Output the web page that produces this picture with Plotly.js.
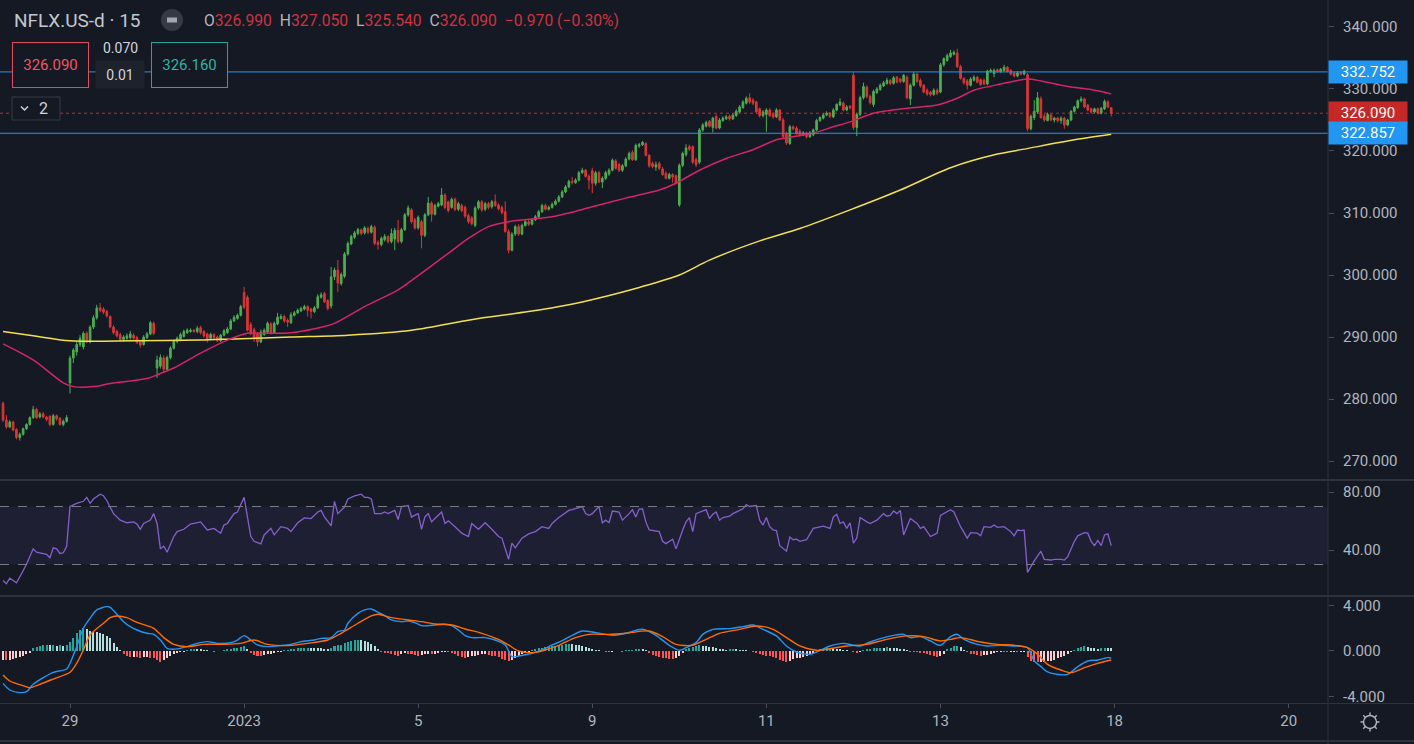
<!DOCTYPE html>
<html><head><meta charset="utf-8">
<script src="https://cdn.plot.ly/plotly-3.0.1.min.js"></script>
<style>html,body{margin:0;padding:0;background:#151924;overflow:hidden}#chart{width:1414px;height:744px}</style>
</head><body><div id="chart"></div>
<script>
// ---------- DATA (15-minute bars, bar index 0 = first bar of Dec 29) ----------
const firstBar = -20;
const tickBars = [0, 52, 104, 156, 208, 260, 312, 364];
const tickLabels = ['29', '2023', '5', '9', '11', '13', '18', '20'];

const openP = [
 279.3,276.6,275.5,276.3,275.1,273.8,274.3,275.2,275.9,277.0,278.3,277.1,277.6,277.1,277.2,275.9,277.3,276.9,275.9,276.4,
 282.6,286.6,287.6,288.8,288.4,290.6,289.2,291.6,293.1,294.7,294.5,294.1,293.3,291.6,290.9,290.4,289.6,289.8,289.9,290.3,289.9,289.3,288.8,289.9,290.5,292.2,
 285.0,285.3,286.6,284.8,286.7,288.2,289.3,289.6,290.1,290.7,290.9,291.1,290.9,291.5,290.9,290.5,289.8,290.4,290.0,289.4,290.3,290.7,291.3,292.6,293.0,293.5,
 297.2,296.4,292.0,291.2,290.5,289.2,290.4,290.8,292.1,290.7,292.1,293.0,293.3,292.7,292.3,293.5,293.9,294.2,294.5,294.9,294.5,294.1,294.7,296.4,297.0,295.9,
 295.0,299.7,300.8,298.6,299.8,303.4,305.0,306.1,306.7,307.3,306.8,307.5,306.9,307.7,305.3,304.9,305.7,306.2,305.4,305.8,307.2,305.4,307.3,309.7,310.5,308.9,
 307.6,308.6,306.4,309.7,311.6,309.8,311.1,311.3,312.9,311.8,310.9,312.2,310.6,311.2,310.9,309.6,309.2,308.0,310.8,311.8,310.6,311.5,311.0,311.9,311.3,310.9,
 310.2,307.0,304.0,306.6,307.8,306.6,308.0,308.6,308.2,308.9,309.4,310.2,311.2,310.6,310.9,311.4,311.9,312.6,313.4,314.2,315.1,314.9,315.3,316.5,316.9,315.9,
 316.8,314.8,316.5,315.0,315.6,316.3,316.9,318.4,317.8,316.9,317.6,318.7,319.8,318.6,320.8,321.0,321.2,319.3,318.0,317.4,318.0,317.1,316.4,315.6,316.2,316.0,
 311.3,317.7,319.4,320.7,320.7,318.6,318.2,323.4,324.0,324.8,323.8,325.6,323.7,324.9,325.2,325.6,325.2,325.7,326.3,327.0,327.7,328.6,328.2,327.9,326.8,325.7,
 325.9,326.6,326.0,325.5,326.6,325.0,322.8,321.2,323.9,323.7,323.2,322.6,322.9,322.3,322.6,323.4,324.9,325.3,325.8,326.1,325.5,326.6,327.4,327.7,326.6,327.2,
 332.2,323.8,325.9,328.6,330.3,328.8,327.5,329.4,329.9,330.5,330.9,331.4,330.9,331.9,331.6,331.2,331.9,328.4,330.6,332.4,331.4,330.6,329.8,329.5,329.1,329.8,
 329.5,333.9,334.6,335.2,335.6,335.8,333.6,331.7,331.3,330.6,331.4,331.9,331.5,331.4,330.8,332.8,332.5,333.1,332.8,333.0,333.5,333.0,332.6,332.1,332.7,332.4,
 332.3,323.6,325.4,326.3,328.4,325.6,324.9,325.8,325.0,325.3,324.9,325.3,324.2,325.0,326.4,327.0,328.1,328.4,327.4,326.8,326.3,326.8,326.1,326.8,327.9,326.99
];
const highP = [
 279.6,277.4,276.6,276.5,275.3,274.6,275.4,276.1,277.2,278.9,278.6,277.9,277.9,277.3,277.4,277.6,277.5,277.1,276.7,277.4,
 287.0,288.2,289.2,290.3,290.9,290.9,291.9,293.5,295.2,295.5,294.8,294.4,293.5,291.9,291.2,290.7,290.3,290.6,291.0,290.6,290.2,289.5,290.3,290.8,292.6,292.5,
 287.0,287.2,287.0,287.0,288.5,289.6,290.1,290.7,291.2,291.4,291.4,291.3,291.8,291.8,291.1,290.7,290.7,290.6,290.2,290.5,291.3,291.6,292.9,293.5,293.8,295.2,
 298.1,296.7,292.4,291.5,290.8,291.2,291.4,292.5,292.4,292.5,293.9,293.7,293.6,293.0,294.0,294.2,294.6,294.9,295.2,295.1,294.7,295.0,296.9,297.2,297.3,296.1,
 301.3,301.2,302.4,300.4,303.7,305.4,306.5,307.1,307.6,307.5,307.9,307.8,308.1,308.0,305.6,306.2,306.6,306.4,307.5,307.6,308.9,307.6,310.0,311.2,310.8,309.2,
 309.6,308.9,310.0,312.6,311.9,311.5,311.8,314.0,313.2,312.0,312.5,312.5,311.8,311.5,311.2,309.9,309.5,311.1,312.1,312.1,311.8,311.8,312.1,313.0,311.6,311.2,
 311.9,307.4,306.9,308.1,308.2,308.3,308.9,308.9,309.2,309.7,310.5,311.5,311.5,311.2,311.7,312.2,312.9,313.7,314.5,315.4,315.8,315.6,316.8,317.3,317.1,316.2,
 317.3,316.8,316.8,315.9,316.8,317.2,318.8,318.7,318.1,317.9,319.0,319.9,320.1,321.2,321.3,321.6,321.4,319.5,318.3,318.3,318.3,317.4,316.7,316.5,316.4,316.2,
 318.0,319.9,321.1,321.0,320.9,318.9,323.7,324.5,324.9,325.0,325.5,325.9,325.3,325.6,325.8,325.9,326.1,326.7,327.4,328.2,328.8,329.3,328.5,328.1,327.0,326.6,
 326.9,326.9,326.3,326.9,326.8,325.3,323.1,324.2,324.1,324.0,323.5,323.2,323.1,323.2,323.6,325.2,325.6,326.1,326.4,326.3,326.9,327.7,328.5,328.0,327.4,327.4,
 332.7,326.2,328.9,331.0,330.6,329.1,329.9,330.3,330.9,331.3,331.8,331.6,332.1,332.1,331.8,332.4,332.2,330.9,332.75,332.6,331.7,330.8,330.1,329.7,330.1,330.1,
 334.2,335.1,335.7,336.3,336.2,336.5,333.9,331.9,331.6,331.9,332.2,332.1,331.7,331.7,333.1,333.3,333.3,333.3,333.4,333.9,333.7,333.2,332.8,332.9,332.9,333.1,
 332.6,325.9,328.2,329.5,328.8,326.0,326.2,326.0,325.5,325.5,325.6,325.5,325.2,326.6,327.3,328.3,328.8,328.6,327.6,327.0,327.0,327.0,327.1,328.3,328.2,327.05
];
const lowP = [
 276.3,275.2,275.3,274.8,273.5,273.3,274.1,275.0,275.7,276.8,276.8,276.9,276.9,276.4,275.6,275.7,276.5,275.7,275.6,276.2,
 280.9,285.8,287.0,288.4,288.0,289.0,289.0,291.3,292.8,294.0,293.7,293.1,291.4,290.4,289.9,289.3,289.3,289.5,289.6,289.6,288.9,288.3,288.6,289.7,290.3,290.3,
 283.4,284.9,284.2,284.5,286.4,288.0,289.0,289.3,289.9,290.5,290.7,290.7,290.6,290.4,289.9,289.1,289.5,289.7,289.2,289.2,290.1,290.5,291.1,292.4,292.8,293.3,
 294.5,290.9,290.3,289.2,288.5,289.0,290.2,290.6,290.4,290.5,291.9,292.8,292.3,291.6,292.1,293.3,293.7,294.0,294.3,293.3,293.0,293.9,294.5,296.2,295.5,294.3,
 294.6,299.2,297.3,298.3,299.5,303.1,304.8,305.8,306.4,306.4,306.5,306.6,306.7,304.8,304.1,304.6,305.4,305.1,305.1,304.0,305.1,305.1,307.1,309.4,308.3,307.3,
 307.3,304.3,306.1,309.5,308.6,309.6,310.9,311.1,310.6,310.1,310.7,310.3,310.3,310.1,309.2,308.3,308.0,307.7,310.5,310.2,310.3,310.6,310.7,311.0,310.4,309.8,
 306.8,303.5,303.8,306.3,306.3,306.4,307.8,307.9,308.0,308.7,309.2,310.0,310.4,310.4,310.7,311.2,311.7,312.4,313.2,314.0,314.6,314.7,315.1,316.3,315.7,313.8,
 313.2,314.4,314.8,314.0,315.3,316.0,316.7,317.0,316.6,316.6,317.4,318.5,318.4,318.4,320.5,320.8,319.1,317.3,317.2,316.8,316.9,316.0,315.4,315.4,314.9,314.6,
 311.0,317.4,319.1,320.0,317.9,317.4,317.9,323.1,323.8,323.8,323.0,323.5,323.5,324.7,325.0,324.9,325.0,325.5,326.1,326.8,327.5,327.6,327.4,326.1,325.4,325.4,
 323.1,325.5,325.2,325.3,324.8,322.0,321.0,321.0,323.3,322.6,322.3,322.4,322.0,322.1,322.4,323.2,324.7,325.1,325.6,325.3,325.3,326.4,327.2,326.4,326.4,326.7,
 323.4,322.4,325.6,328.3,328.5,327.5,327.1,329.2,329.7,330.3,330.7,330.6,330.7,330.9,330.9,331.0,328.3,327.4,330.4,331.0,330.2,329.3,328.9,328.8,328.9,329.0,
 329.3,333.6,334.4,335.0,335.4,333.4,331.5,330.7,329.9,330.4,331.2,330.9,330.5,330.6,330.6,332.6,331.9,332.6,332.6,332.8,332.7,332.2,331.9,331.9,332.2,332.2,
 323.2,323.3,325.0,326.0,325.2,324.7,324.8,324.8,324.6,324.6,324.4,323.6,324.0,324.8,326.2,326.8,327.8,326.9,326.4,326.0,326.1,325.9,325.9,326.6,326.9,325.54
];
const closeP = [
 276.6,275.5,276.3,275.0,273.8,274.3,275.2,275.9,277.0,278.3,277.0,277.6,277.1,276.7,275.9,277.3,276.8,275.9,276.4,277.0,
 286.6,287.9,288.8,289.8,290.6,289.2,291.6,293.1,294.7,294.3,294.0,293.4,291.6,290.7,290.2,289.6,290.0,290.2,290.5,289.8,289.1,288.7,290.0,290.5,292.3,290.6,
 286.3,286.7,284.8,286.7,288.2,289.3,289.8,290.4,290.9,291.1,291.1,290.9,291.4,290.7,290.2,289.7,290.4,289.9,289.4,290.3,291.0,291.3,292.6,293.2,293.5,294.9,
 294.8,291.1,290.6,289.8,289.2,290.8,291.1,292.2,290.7,292.2,293.2,293.3,292.6,292.4,293.6,293.9,294.3,294.6,294.9,294.3,294.1,294.7,296.5,296.8,295.7,294.6,
 299.7,300.8,298.7,300.1,303.4,305.1,306.2,306.8,307.3,306.7,307.6,306.9,307.8,305.1,304.9,305.9,306.2,305.4,306.7,307.2,305.4,307.3,309.7,310.8,308.6,307.6,
 309.3,306.4,309.7,311.6,309.8,311.2,311.5,312.9,310.9,310.4,312.2,310.6,311.5,310.4,309.5,308.6,308.3,310.8,311.8,310.5,311.5,310.9,311.8,311.2,310.7,310.1,
 307.0,304.0,306.6,307.8,306.6,308.0,308.6,308.2,308.9,309.4,310.2,311.2,310.6,310.9,311.4,311.9,312.6,313.4,314.2,315.1,314.9,315.3,316.5,316.9,315.9,315.3,
 314.8,316.5,315.0,315.6,316.5,316.9,318.5,317.2,316.9,317.6,318.7,319.6,318.6,320.9,321.0,321.4,319.3,317.6,317.5,317.8,317.2,316.2,315.6,316.2,315.8,314.8,
 317.7,319.6,320.5,320.3,318.2,317.8,323.4,324.2,324.6,324.0,325.3,323.7,325.0,325.3,325.5,325.2,325.8,326.4,327.1,327.9,328.5,327.9,327.7,326.3,325.7,326.3,
 326.6,325.7,325.5,326.6,325.0,322.3,321.3,323.9,323.6,322.8,322.6,322.9,322.3,322.9,323.4,324.9,325.4,325.8,326.1,325.6,326.6,327.5,327.9,326.6,327.1,327.0,
 323.8,325.9,328.6,330.4,328.8,327.8,329.6,330.0,330.6,331.0,331.4,330.9,331.8,331.1,331.2,332.2,328.6,330.6,332.4,331.2,330.5,329.5,329.2,329.1,329.8,329.3,
 333.9,334.9,335.4,335.8,335.9,333.6,331.7,331.0,330.6,331.6,331.9,331.1,330.7,330.8,332.9,333.0,333.0,332.8,333.2,333.5,332.8,332.4,332.1,332.6,332.4,332.9,
 323.6,325.6,326.4,328.6,325.4,325.0,325.9,325.0,325.3,324.9,325.3,324.2,325.0,326.4,327.1,328.1,328.4,327.1,326.6,326.3,326.8,326.1,326.9,328.0,327.1,326.09
];

// moving averages (bar index -> value)
const maFastBars = [-20,-11,-2,1,7,12,23,26,31,39,47,53,59,66,76,79,88,98,105,113,119,125,131,137,144,149,156,166,176,181,188,196,204,211,216,222,228,233,240,250,259,265,270,278,286,290,298,305,311];
const maFastVals = [288.9,286.3,282.6,282.0,282.0,282.5,283.3,283.9,285.0,287.4,289.5,290.6,290.6,290.7,291.7,292.2,294.9,297.6,300.3,303.5,305.9,307.8,308.6,309.0,309.4,310.0,311.0,312.4,313.7,314.8,316.9,318.8,320.2,321.8,322.3,322.9,323.9,324.7,326.1,326.9,327.4,328.5,329.8,330.8,331.6,331.3,330.4,329.9,329.2];
const maSlowBars = [-20,-11,0,19,39,49,66,83,102,122,137,149,158,170,182,191,206,218,233,248,263,277,285,300,311];
const maSlowVals = [290.9,290.2,289.4,289.4,289.5,289.7,290.0,290.3,291.1,293.0,294.1,295.2,296.3,298.0,300.0,302.4,305.5,307.5,310.5,313.7,317.3,319.5,320.3,321.8,322.7];

// horizontal levels
const levelUpper = 332.752;
const levelLower = 322.857;
const lastPrice = 326.090;
const bidPrice = '326.090', spreadTop = '0.070', spreadLot = '0.01', askPrice = '326.160';

// RSI
const rsiBars = [-20,-19,-18,-16,-14,-13,-11,-10,-9,-7,-6,-5,-4,-3,-2,-1,0,2,4,5,6,7,9,10,11,13,15,17,19,20,21,22,24,25,26,27,28,29,31,32,34,36,39,41,43,45,46,47,49,50,
 52,54,55,57,58,60,61,63,65,66,68,70,72,74,75,76,78,79,80,82,83,85,87,88,89,90,91,93,94,95,97,98,99,101,102,104,105,106,107,108,109,111,112,113,115,117,119,120,122,124,
 126,128,129,131,132,133,135,136,137,139,141,143,144,146,149,150,151,153,154,155,156,158,159,160,161,162,164,165,167,168,169,170,171,172,173,175,176,177,178,180,181,183,184,185,186,187,189,190,191,192,
 193,194,195,197,198,201,202,203,205,206,207,208,209,210,211,212,214,215,216,217,218,220,222,225,227,228,229,230,231,232,233,234,235,236,238,239,241,243,244,245,246,247,248,249,250,251,253,254,255,257,
 258,259,260,262,263,264,266,268,269,271,272,273,275,276,277,279,281,282,283,284,285,286,288,290,291,293,294,296,297,298,300,301,303,304,305,306,307,308,309,310,311];
const rsiVals = [19.0,16.7,20.6,17.4,25.7,30.2,40.8,38.5,38.1,37.0,34.7,41.5,40.8,37.6,38.1,42.6,70.0,72.2,73.6,76.3,72.2,75.2,78.5,77.4,74.0,65.1,60.6,58.8,59.4,57.9,54.3,58.3,60.6,65.1,58.3,40.8,42.6,38.5,49.3,52.7,54.3,57.9,59.4,53.8,54.9,51.6,57.2,58.3,65.1,66.2,
 76.3,49.3,46.0,44.2,50.4,54.9,50.4,56.1,54.9,52.7,58.8,62.1,61.7,66.2,67.3,62.8,56.7,73.6,65.1,69.6,75.2,77.4,78.5,76.3,76.3,75.2,65.1,65.1,66.2,65.1,67.3,61.0,70.0,70.7,62.8,65.1,54.3,62.8,65.1,59.4,61.7,66.2,58.3,60.1,56.1,51.6,49.3,58.3,54.3,58.8,
 54.3,49.3,48.2,33.6,44.8,41.5,48.2,49.8,51.1,52.7,56.1,54.9,58.3,62.4,67.3,67.8,68.4,70.0,65.1,63.9,65.1,70.0,58.8,60.6,58.8,66.9,66.2,60.6,65.1,67.8,62.8,68.2,68.4,59.4,53.8,53.4,52.7,46.0,44.4,47.5,40.8,53.8,59.4,62.4,52.7,65.1,66.9,67.8,61.7,64.6,
 66.2,60.6,62.4,63.3,65.1,68.4,71.3,70.0,70.7,60.6,57.2,62.4,56.1,53.8,53.4,43.0,39.2,48.9,47.1,47.5,46.0,47.1,54.9,56.5,54.9,62.8,64.6,58.3,59.4,54.9,58.8,44.8,48.2,62.4,59.4,58.3,60.6,65.1,63.3,63.9,66.9,65.1,67.3,50.4,56.1,61.7,58.3,54.9,56.1,49.3,
 50.4,51.6,63.9,66.9,67.8,66.2,56.1,48.2,52.0,51.6,49.8,56.1,55.6,57.2,55.6,56.1,52.7,49.8,53.8,53.4,53.8,24.6,32.5,39.2,33.6,33.1,33.6,33.6,33.1,35.4,46.0,49.8,52.0,51.6,46.0,43.0,46.6,43.0,50.4,51.1,43.0];
const rsiUpper = 70, rsiLower = 30;

// MACD
const macdBars = [-20,-18,-15,-13,-11,-8,-5,-1,0,2,4,6,8,11,12,14,16,18,20,23,25,27,29,31,35,38,41,44,48,50,52,54,56,59,63,66,69,73,75,78,80,82,83,86,88,90,92,94,96,99,101,103,105,107,109,112,114,116,118,120,124,127,130,132,134,138,141,144,147,150,153,157,162,166,171,175,179,182,184,187,189,192,197,201,204,207,211,214,217,221,223,227,231,234,236,239,242,246,249,251,254,257,260,263,265,267,271,274,278,282,286,288,290,292,296,298,301,304,307,310,311];
const macdVals = [-2.84,-3.42,-3.65,-3.57,-2.92,-2.34,-1.87,-1.58,-1.08,0.38,1.99,2.87,3.60,3.89,3.83,3.22,2.57,2.13,1.84,1.55,1.46,0.96,0.23,0.15,0.38,0.67,0.82,0.67,0.73,0.96,1.35,0.96,0.53,0.38,0.47,0.58,0.82,0.96,1.11,1.17,1.70,1.84,2.43,3.30,3.60,3.68,3.39,3.10,2.72,2.57,2.63,2.49,2.22,2.22,2.28,2.34,2.22,1.84,1.35,1.17,1.17,0.96,0.53,-0.50,-0.44,-0.20,0.09,0.53,0.90,1.37,1.75,1.61,1.37,1.55,1.90,1.37,0.50,0.06,0.29,0.73,1.46,1.90,1.96,2.13,2.28,1.90,1.32,0.44,-0.09,-0.29,-0.09,0.44,0.67,0.50,0.44,0.79,1.08,1.37,1.46,1.17,1.26,0.88,0.50,1.26,1.46,1.02,0.58,0.44,0.50,0.44,0.30,-0.88,-1.37,-1.84,-2.08,-2.05,-1.37,-0.88,-0.79,-0.58,-0.61];
const signalBars = [-20,-18,-14,-12,-9,-5,0,2,4,6,10,12,14,17,20,25,28,31,35,40,46,51,55,59,65,71,77,81,86,90,92,96,101,105,109,114,118,123,128,131,134,139,143,146,151,155,161,166,173,177,181,186,190,194,200,205,210,214,218,223,227,232,238,244,250,255,260,263,266,272,277,282,286,289,292,296,299,303,307,311];
const signalVals = [-2.11,-2.63,-3.04,-3.22,-2.92,-2.46,-1.87,-1.08,0.09,1.40,2.43,2.92,3.07,2.92,2.51,1.99,1.17,0.58,0.38,0.58,0.58,0.67,0.96,0.58,0.47,0.67,0.96,1.55,2.43,3.07,3.22,2.92,2.72,2.57,2.37,2.28,1.93,1.55,1.02,0.53,0.00,-0.12,0.18,0.50,1.17,1.46,1.46,1.55,1.75,1.26,0.58,0.50,1.02,1.55,1.90,2.19,1.90,1.17,0.44,0.06,0.20,0.44,0.58,1.02,1.32,1.26,0.88,1.02,1.17,0.79,0.58,0.50,0.29,-0.29,-1.17,-1.67,-1.90,-1.46,-1.08,-0.79];
const histVals = [
 -0.75,-0.8,-0.78,-0.72,-0.65,-0.55,-0.45,-0.3,-0.15,0.25,0.38,0.45,0.5,0.53,0.5,0.52,0.47,0.5,0.47,0.52,
 0.8,1.15,1.55,1.85,2.0,1.9,1.75,1.7,1.68,1.6,1.5,1.35,1.1,0.7,0.35,0.1,-0.25,-0.4,-0.5,-0.5,-0.55,-0.58,-0.55,-0.55,-0.6,-0.65,
 -0.8,-0.93,-0.8,-0.6,-0.42,-0.3,-0.22,-0.12,-0.05,0.12,0.18,0.2,0.18,0.15,0.1,0.05,-0.03,-0.05,-0.04,0.03,0.1,0.15,0.2,0.25,0.3,0.38,
 0.45,0.2,-0.2,-0.35,-0.4,-0.42,-0.38,-0.3,-0.25,-0.2,-0.12,-0.05,0.05,0.1,0.15,0.18,0.22,0.25,0.28,0.3,0.3,0.28,0.25,0.22,0.18,0.15,
 0.3,0.4,0.5,0.55,0.7,0.8,0.9,0.95,0.98,0.97,0.9,0.8,0.6,0.4,0.2,-0.1,-0.15,-0.2,-0.25,-0.35,-0.4,-0.3,-0.2,-0.25,-0.3,-0.35,
 -0.4,-0.35,-0.3,-0.25,-0.3,-0.25,-0.2,-0.12,-0.05,-0.1,-0.2,-0.3,-0.45,-0.55,-0.65,-0.55,-0.45,-0.4,-0.35,-0.3,-0.3,-0.35,-0.4,-0.45,-0.55,-0.7,
 -0.8,-0.88,-0.75,-0.6,-0.45,-0.3,-0.2,-0.1,0.05,0.15,0.22,0.28,0.32,0.38,0.42,0.48,0.52,0.55,0.58,0.6,0.6,0.55,0.5,0.42,0.35,0.22,
 0.15,0.1,0.05,0.02,-0.05,-0.08,-0.05,0.02,-0.03,-0.05,0.05,0.1,0.12,0.15,0.2,0.18,0.1,-0.2,-0.35,-0.45,-0.52,-0.6,-0.65,-0.7,-0.72,-0.65,
 -0.4,-0.15,0.15,0.25,0.35,0.45,0.5,0.48,0.45,0.38,0.32,0.25,0.2,0.15,0.12,0.15,0.18,0.15,0.12,0.08,0.05,0.02,-0.05,-0.15,-0.25,-0.35,
 -0.4,-0.45,-0.5,-0.6,-0.75,-0.9,-0.95,-0.85,-0.7,-0.62,-0.58,-0.5,-0.4,-0.3,-0.15,0.05,0.15,0.2,0.22,0.25,0.22,0.2,0.15,0.1,0.05,0.02,
 -0.1,-0.15,-0.05,0.1,0.15,0.2,0.25,0.28,0.3,0.3,0.32,0.3,0.28,0.25,0.2,0.15,0.05,-0.05,-0.1,-0.12,-0.15,-0.2,-0.3,-0.38,-0.45,-0.5,
 -0.45,-0.3,0.15,0.3,0.4,0.42,0.35,0.1,-0.1,-0.25,-0.3,-0.35,-0.4,-0.38,-0.35,-0.3,-0.15,-0.1,-0.08,-0.1,-0.12,-0.1,-0.08,-0.12,-0.1,-0.05,
 -0.5,-0.88,-0.95,-1.0,-1.0,-0.98,-0.92,-0.85,-0.75,-0.65,-0.52,-0.4,-0.25,-0.1,0.12,0.25,0.35,0.4,0.32,0.28,0.22,0.2,0.25,0.3,0.25,0.22
];

const priceTicks = [270, 280, 290, 300, 310, 320, 330, 340];
const rsiTicks = [40, 80];
const macdTicks = [-4, 0, 4];

// ---------- BUILD ----------
const bars = closeP.map((_, k) => firstBar + k);
const histColors = histVals.map((h, k) => {
  const prev = k > 0 ? histVals[k - 1] : h;
  if (h >= 0) return h > prev ? '#26a69a' : '#b2dfdb';
  return h < prev ? '#ff5252' : '#ffcdd2';
});

const UP = '#4caf50', DOWN = '#dd3535';
const traces = [
  { type: 'candlestick', x: bars, open: openP, high: highP, low: lowP, close: closeP,
    xaxis: 'x', yaxis: 'y', whiskerwidth: 0, hoverinfo: 'skip',
    increasing: { line: { color: UP, width: 1 }, fillcolor: UP },
    decreasing: { line: { color: DOWN, width: 1 }, fillcolor: DOWN } },
  { type: 'scatter', mode: 'lines', x: maSlowBars, y: maSlowVals, xaxis: 'x', yaxis: 'y',
    line: { color: '#f4e04d', width: 1.5, shape: 'spline', smoothing: 0.8 }, hoverinfo: 'skip' },
  { type: 'scatter', mode: 'lines', x: maFastBars, y: maFastVals, xaxis: 'x', yaxis: 'y',
    line: { color: '#d6246a', width: 1.5, shape: 'spline', smoothing: 0.8 }, hoverinfo: 'skip' },
  { type: 'scatter', mode: 'lines', x: rsiBars, y: rsiVals, xaxis: 'x', yaxis: 'y2',
    line: { color: '#8460cc', width: 1.3 }, hoverinfo: 'skip' },
  { type: 'bar', x: bars, y: histVals, xaxis: 'x', yaxis: 'y3', width: 0.6,
    marker: { color: histColors, line: { width: 0 } }, hoverinfo: 'skip' },
  { type: 'scatter', mode: 'lines', x: macdBars, y: macdVals, xaxis: 'x', yaxis: 'y3',
    line: { color: '#2196f3', width: 1.4, shape: 'spline', smoothing: 0.8 }, hoverinfo: 'skip' },
  { type: 'scatter', mode: 'lines', x: signalBars, y: signalVals, xaxis: 'x', yaxis: 'y3',
    line: { color: '#ff6d00', width: 1.4, shape: 'spline', smoothing: 0.8 }, hoverinfo: 'skip' }
];

// layout geometry helpers (pixels inside the 1328x703 plot area)
const PW = 1328, PH = 703;
const px = v => v / PW, py = v => (PH - v) / PH;
const TXT = '#b2b5be';

function pixShape(cx, cy, extra) {
  return Object.assign({ xref: 'paper', yref: 'paper', xsizemode: 'pixel', ysizemode: 'pixel',
    xanchor: px(cx), yanchor: py(cy) }, extra);
}
function hLinePaper(yPix, color, w) {
  return { type: 'line', xref: 'paper', yref: 'paper', x0: 0, x1: 1414 / PW, y0: py(yPix), y1: py(yPix),
    line: { color: color, width: w } };
}

let gearPath = '';
for (let a = 0; a < 8; a++) {
  const t = a * Math.PI / 4;
  gearPath += `M ${(6.5 * Math.cos(t)).toFixed(2)} ${(6.5 * Math.sin(t)).toFixed(2)} L ${(9.5 * Math.cos(t)).toFixed(2)} ${(9.5 * Math.sin(t)).toFixed(2)} `;
}

const shapes = [
  { type: 'rect', xref: 'paper', yref: 'y2', x0: 0, x1: 1, y0: rsiLower, y1: rsiUpper, layer: 'below',
    fillcolor: 'rgba(126,87,194,0.10)', line: { width: 0 } },
  { type: 'line', xref: 'paper', yref: 'y2', x0: 0, x1: 1, y0: rsiUpper, y1: rsiUpper, line: { color: '#787b86', width: 1, dash: 'dash' } },
  { type: 'line', xref: 'paper', yref: 'y2', x0: 0, x1: 1, y0: rsiLower, y1: rsiLower, line: { color: '#787b86', width: 1, dash: 'dash' } },
  { type: 'line', xref: 'paper', yref: 'y', x0: 0, x1: 1, y0: lastPrice, y1: lastPrice, line: { color: 'rgba(229,57,53,0.75)', width: 1, dash: 'dot' } },
  { type: 'line', xref: 'paper', yref: 'y', x0: 0, x1: 1, y0: levelUpper, y1: levelUpper, line: { color: '#2196f3', width: 1 } },
  { type: 'line', xref: 'paper', yref: 'y', x0: 0, x1: 1, y0: levelLower, y1: levelLower, line: { color: '#2196f3', width: 1 } },
  hLinePaper(480, '#2e323d', 2),
  hLinePaper(596, '#2e323d', 2),
  hLinePaper(703.5, '#2e323d', 1),
  hLinePaper(741, '#2e323d', 2),
  { type: 'line', xref: 'paper', yref: 'paper', x0: 1, x1: 1, y0: py(744), y1: 1, line: { color: '#2e323d', width: 1 } },
  // symbol status icon
  pixShape(172, 20, { type: 'circle', x0: -11, x1: 11, y0: -11, y1: 11, fillcolor: '#363a45', line: { width: 0 } }),
  pixShape(172, 20, { type: 'rect', x0: -5, x1: 5, y0: -2.5, y1: 2.5, fillcolor: '#a3a6af', line: { width: 0 } }),
  // collapse button
  pixShape(36, 108.5, { type: 'rect', x0: -24, x1: 24, y0: -11.5, y1: 11.5, fillcolor: '#151924', line: { color: '#363a45', width: 1 } }),
  pixShape(36, 108.5, { type: 'path', path: 'M -15 2 L -11.5 -1.5 L -8 2', line: { color: '#d1d4dc', width: 1.5 } }),
  // settings icon
  pixShape(1370, 722, { type: 'circle', x0: -6.5, x1: 6.5, y0: -6.5, y1: 6.5, line: { color: TXT, width: 1.4 } }),
  pixShape(1370, 722, { type: 'path', path: gearPath, line: { color: TXT, width: 1.4 } })
];

const red = '#cc3440', grey = '#b2b5be';
const sp = '\u2002';
const ohlcText =
  `<span style="color:${grey}">O</span><span style="color:${red}">326.990</span>${sp}` +
  `<span style="color:${grey}">H</span><span style="color:${red}">327.050</span>${sp}` +
  `<span style="color:${grey}">L</span><span style="color:${red}">325.540</span>${sp}` +
  `<span style="color:${grey}">C</span><span style="color:${red}">326.090</span>${sp}` +
  `<span style="color:${red}">\u22120.970 (\u22120.30%)</span>`;

function priceTag(val, text, bg) {
  return { xref: 'paper', yref: 'y', x: 1, y: val, xanchor: 'left', yanchor: 'middle', showarrow: false,
    text: text, bgcolor: bg, width: 78, height: 22, borderpad: 0, align: 'center',
    font: { color: '#ffffff', size: 15 } };
}

const annotations = [
  { xref: 'paper', yref: 'paper', x: px(12), y: py(20), xanchor: 'left', yanchor: 'middle', showarrow: false,
    text: 'NFLX.US-d · 15', font: { size: 19, color: '#c3c6ce' } },
  { xref: 'paper', yref: 'paper', x: px(202), y: py(20), xanchor: 'left', yanchor: 'middle', showarrow: false,
    text: ohlcText, font: { size: 15.7 } },
  { xref: 'paper', yref: 'paper', x: px(50.5), y: py(65), xanchor: 'center', yanchor: 'middle', showarrow: false,
    text: bidPrice, width: 75, height: 44, borderpad: 0, bgcolor: '#151924', bordercolor: '#d9505e', borderwidth: 1,
    font: { size: 15, color: '#f25563' } },
  { xref: 'paper', yref: 'paper', x: px(120), y: py(48), xanchor: 'center', yanchor: 'middle', showarrow: false,
    text: spreadTop, font: { size: 14, color: '#d1d4dc' } },
  { xref: 'paper', yref: 'paper', x: px(120), y: py(74), xanchor: 'center', yanchor: 'middle', showarrow: false,
    text: spreadLot, width: 48, height: 27, borderpad: 0, bgcolor: '#1e222d', font: { size: 14, color: '#d1d4dc' } },
  { xref: 'paper', yref: 'paper', x: px(189.5), y: py(65), xanchor: 'center', yanchor: 'middle', showarrow: false,
    text: askPrice, width: 75, height: 44, borderpad: 0, bgcolor: '#151924', bordercolor: '#26a69a', borderwidth: 1,
    font: { size: 15, color: '#2bb3a3' } },
  { xref: 'paper', yref: 'paper', x: px(43), y: py(108.5), xanchor: 'center', yanchor: 'middle', showarrow: false,
    text: '2', font: { size: 16, color: '#d1d4dc' } },
  priceTag(levelUpper, levelUpper.toFixed(3), '#2196f3'),
  priceTag(lastPrice, lastPrice.toFixed(3), '#c62828'),
  priceTag(levelLower, levelLower.toFixed(3), '#2196f3')
];

const yCommon = { side: 'right', anchor: 'x', showgrid: false, zeroline: false, showline: false,
  ticks: 'outside', ticklen: 5, tickcolor: '#4a4e59', ticklabelstandoff: 6,
  tickfont: { size: 15, color: TXT }, fixedrange: true };

const layout = {
  width: 1414, height: 744,
  margin: { l: 0, r: 86, t: 0, b: 41, pad: 0 },
  paper_bgcolor: '#151924', plot_bgcolor: '#151924',
  font: { family: 'Roboto, "Open Sans", sans-serif', color: TXT, size: 15 },
  showlegend: false, hovermode: false, dragmode: false, bargap: 0,
  xaxis: { domain: [0, 1], anchor: 'y3', range: [-20.91, 375.75], tickmode: 'array', tickvals: tickBars, ticktext: tickLabels,
    ticks: 'outside', ticklen: 4, tickcolor: '#4a4e59', showgrid: false, zeroline: false, showline: false,
    rangeslider: { visible: false }, tickfont: { size: 15, color: TXT }, fixedrange: true },
  yaxis: Object.assign({}, yCommon, { domain: [0.3172, 1], range: [266.94, 344.35],
    tickvals: priceTicks, ticktext: priceTicks.map(v => v.toFixed(3)) }),
  yaxis2: Object.assign({}, yCommon, { domain: [0.1522, 0.3172], range: [8.28, 88.28],
    tickvals: rsiTicks, ticktext: rsiTicks.map(v => v.toFixed(2)) }),
  yaxis3: Object.assign({}, yCommon, { domain: [0, 0.1522], range: [-4.56, 4.82],
    tickvals: macdTicks, ticktext: macdTicks.map(v => v.toFixed(3)) }),
  shapes: shapes,
  annotations: annotations
};

Plotly.newPlot('chart', traces, layout, { staticPlot: true, displayModeBar: false });
</script>
</body></html>
